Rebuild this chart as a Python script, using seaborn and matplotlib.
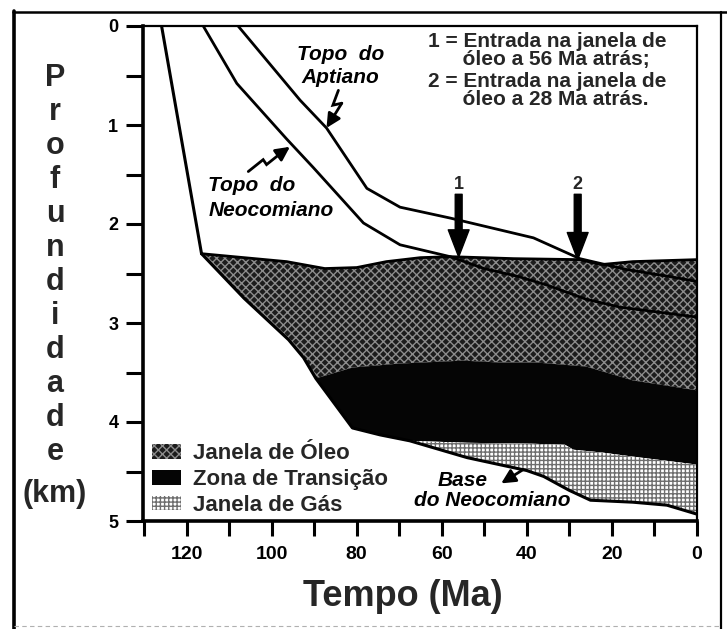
import numpy as np
import matplotlib
matplotlib.use("Agg")
import matplotlib.pyplot as plt
import seaborn as sns
from matplotlib.patches import Patch
from matplotlib.lines import Line2D

# ---- burial history (time in Ma, depth in km) ----
left_t = [125.9, 116.5]
left_z = [0.00, 2.30]

neo_t = [116.1, 108.2, 96.5, 90.2, 78.4, 69.8, 58.0, 50.0, 42.0, 35.0, 26.0, 18.0, 0.0]
neo_z = [0.00, 0.58, 1.14, 1.43, 1.99, 2.21, 2.33, 2.45, 2.53, 2.62, 2.76, 2.84, 2.94]

apt_t = [107.9, 93.3, 87.1, 77.6, 69.8, 58.0, 38.4, 27.5, 16.5, 6.5, 0.0]
apt_z = [0.00, 0.75, 1.03, 1.64, 1.83, 1.94, 2.14, 2.35, 2.46, 2.53, 2.58]

base_t = [116.5, 106.5, 96.0, 92.5, 89.6, 81.0, 74.5, 67.5, 54.0, 40.0, 36.0, 30.0, 25.0, 15.0, 7.0, 0.0]
base_z = [2.30, 2.75, 3.17, 3.35, 3.56, 4.06, 4.13, 4.19, 4.36, 4.49, 4.55, 4.69, 4.79, 4.81, 4.84, 4.93]

oil_t = [116.5, 96.5, 87.5, 80.0, 73.0, 65.0, 58.0, 43.0, 27.5, 22.5, 15.0, 0.0]
oil_z = [2.30, 2.38, 2.45, 2.44, 2.38, 2.34, 2.33, 2.35, 2.36, 2.41, 2.38, 2.36]

trans_t = [89.6, 81.0, 70.0, 55.0, 46.0, 37.5, 26.0, 15.0, 0.0]
trans_z = [3.56, 3.45, 3.41, 3.38, 3.40, 3.40, 3.44, 3.58, 3.68]

gas_t = [67.5, 54.0, 38.5, 31.0, 29.0, 22.0, 15.0, 0.0]
gas_z = [4.19, 4.21, 4.22, 4.23, 4.28, 4.31, 4.35, 4.43]

entry_t = [56, 28]
entry_lbl = ["1", "2"]

x_ticks = list(range(0, 131, 10))
x_labels = [str(v) if v % 20 == 0 else "" for v in x_ticks]
y_ticks = [i * 0.5 for i in range(11)]
y_labels = [str(int(v)) if v == int(v) else "" for v in y_ticks]

zone_labels = ["Janela de Óleo", "Zona de Transição", "Janela de Gás"]
note_lines = ["1 = Entrada na janela de", "óleo a 56 Ma atrás;",
              "2 = Entrada na janela de", "óleo a 28 Ma atrás."]

# ---- styling ----
sns.set_theme(style="ticks")
plt.rcParams["font.family"] = ["Liberation Sans", "DejaVu Sans"]
plt.rcParams["font.weight"] = "bold"
plt.rcParams["hatch.linewidth"] = 1.0

OIL = dict(facecolor="#1c1c1c", edgecolor="#8c8c8c", hatch="xxxx")
TRANS = dict(facecolor="#050505", edgecolor="#050505")
GAS = dict(facecolor="#ffffff", edgecolor="#6e6e6e", hatch="++++")

W, H = 727, 629
fig = plt.figure(figsize=(W / 100, H / 100), dpi=100)
fig.patch.set_facecolor("white")
x0, x1, ytop, ybot = 143.3, 696.7, 26, 521
ax = fig.add_axes([x0 / W, 1 - ybot / H, (x1 - x0) / W, (ybot - ytop) / H])
ax.set_facecolor("white")

bt = np.array(base_t)
bz = np.array(base_z)

# oil window polygon
m = bt >= 89.6
poly_t = list(oil_t) + trans_t[::-1] + list(bt[m][::-1])
poly_z = list(oil_z) + trans_z[::-1] + list(bz[m][::-1])
ax.fill(poly_t, poly_z, lw=0, zorder=1, **OIL)

# transition zone polygon
m = (bt >= 67.5) & (bt <= 89.6)
poly_t = list(trans_t) + gas_t[::-1] + list(bt[m][::-1])
poly_z = list(trans_z) + gas_z[::-1] + list(bz[m][::-1])
ax.fill(poly_t, poly_z, lw=0, zorder=1, **TRANS)

# gas window polygon
m = bt <= 67.5
poly_t = list(gas_t) + list(bt[m][::-1])
poly_z = list(gas_z) + list(bz[m][::-1])
ax.fill(poly_t, poly_z, lw=0, zorder=1, **GAS)

# horizon lines
for t, z, lw in [(left_t, left_z, 2.2), (neo_t, neo_z, 2.0), (apt_t, apt_z, 2.0),
                 (base_t, base_z, 2.2), (oil_t, oil_z, 2.0)]:
    sns.lineplot(x=t, y=z, sort=False, estimator=None, color="black",
                 lw=lw, ax=ax, zorder=3, legend=False)

ax.set_xlim(130.2, 0)
ax.set_ylim(5, 0)

# axes, ticks
ax.set_xticks(x_ticks)
ax.set_xticklabels(x_labels)
ax.set_yticks(y_ticks)
ax.set_yticklabels(y_labels)
ax.tick_params(axis="x", direction="out", length=11, width=2.2, pad=7,
               labelsize=14, colors="black")
ax.tick_params(axis="y", direction="out", length=12, width=2.2, pad=6,
               labelsize=13, colors="black")
for lab in ax.get_xticklabels() + ax.get_yticklabels():
    lab.set_fontweight("bold")
for side, lw in [("left", 2.6), ("bottom", 2.6), ("top", 1.6), ("right", 1.6)]:
    ax.spines[side].set_visible(True)
    ax.spines[side].set_linewidth(lw)
    ax.spines[side].set_color("black")
ax.set_xlabel("")
ax.set_ylabel("")

# oil-window entry arrows
for t, lbl in zip(entry_t, entry_lbl):
    tip = float(np.interp(t, oil_t[::-1], oil_z[::-1]))
    ax.annotate("", xy=(t, tip), xytext=(t, 1.70),
                arrowprops=dict(arrowstyle="simple,head_length=1.3,head_width=1.0,tail_width=0.33",
                                mutation_scale=15, fc="black", ec="black",
                                shrinkA=0, shrinkB=0), zorder=5)
    ax.text(t, 1.60, lbl, ha="center", va="center", fontsize=13,
            fontweight="bold", zorder=5)

# horizon labels
ital = dict(fontsize=15, fontweight="bold", style="italic", color="black", zorder=5)
ax.text(83.8, 0.29, "Topo  do", ha="center", va="center", **ital)
ax.text(83.8, 0.525, "Aptiano", ha="center", va="center", **ital)
ax.text(114.9, 1.61, "Topo  do", ha="left", va="center", **ital)
ax.text(114.9, 1.86, "Neocomiano", ha="left", va="center", **ital)
ax.text(55.0, 4.59, "Base", ha="center", va="center", **ital)
ax.text(48.2, 4.79, "do Neocomiano", ha="center", va="center", **ital)

# zig-zag pointers
zz_apt = [(84.3, 0.65), (85.6, 0.80), (83.5, 0.78), (87.1, 1.03)]
zz_neo = [(105.5, 1.47), (102.0, 1.35), (101.2, 1.40), (98.0, 1.29), (95.7, 1.22)]
for pts in (zz_apt, zz_neo):
    xs, ys = zip(*pts)
    ax.plot(xs[:-1], ys[:-1], color="black", lw=2.0, zorder=5, solid_joinstyle="miter")
    ax.annotate("", xy=pts[-1], xytext=pts[-2],
                arrowprops=dict(arrowstyle="-|>,head_length=0.7,head_width=0.35",
                                mutation_scale=12, color="black", lw=2.0,
                                shrinkA=0, shrinkB=0), zorder=5)
ax.annotate("", xy=(46.0, 4.62), xytext=(40.8, 4.48),
            arrowprops=dict(arrowstyle="-|>,head_length=0.7,head_width=0.35",
                            mutation_scale=12, color="black", lw=2.0,
                            shrinkA=0, shrinkB=0), zorder=5)

# notes, top right (second line of each item hangs under the first word)
note = dict(fontsize=15, fontweight="bold", ha="left", va="center",
            linespacing=0.95, zorder=5)
indent = " " * 6
ax.text(63.2, 0.245, note_lines[0] + "\n" + indent + note_lines[1], **note)
ax.text(63.2, 0.655, note_lines[2] + "\n" + indent + note_lines[3], **note)

# zone legend
handles = [Patch(lw=0, **OIL), Patch(lw=0, **TRANS), Patch(lw=0, **GAS)]
leg = ax.legend(handles, zone_labels, loc="lower left", bbox_to_anchor=(0.016, 0.010),
                frameon=False, fontsize=16, handlelength=1.3, handleheight=0.62,
                handletextpad=0.55, labelspacing=0.22, borderpad=0, borderaxespad=0)
for txt in leg.get_texts():
    txt.set_fontweight("bold")

# axis titles
fig.text(403 / W, 1 - 597 / H, "Tempo (Ma)", ha="center", va="center",
         fontsize=26, fontweight="bold")
word = "Profundidade"
for i, ch in enumerate(word):
    fig.text(55 / W, 1 - (78 + i * 34) / H, ch, ha="center", va="center",
             fontsize=22, fontweight="bold")
fig.text(55 / W, 1 - 494 / H, "(km)", ha="center", va="center",
         fontsize=22, fontweight="bold")

# outer frame
fig.add_artist(Line2D([14 / W, 14 / W], [0, 1 - 11 / H], transform=fig.transFigure,
                      color="black", lw=2.6))
fig.add_artist(Line2D([13 / W, 1], [1 - 12 / H, 1 - 12 / H], transform=fig.transFigure,
                      color="black", lw=1.8))
fig.add_artist(Line2D([721 / W, 721 / W], [0, 1 - 12 / H], transform=fig.transFigure,
                      color="black", lw=1.6))
fig.add_artist(Line2D([14 / W, 721 / W], [1 - 626 / H, 1 - 626 / H], transform=fig.transFigure,
                      color="#b0b0b0", lw=0.8, ls=(0, (4, 3))))

fig.savefig("out.png", dpi=100, facecolor="white")
